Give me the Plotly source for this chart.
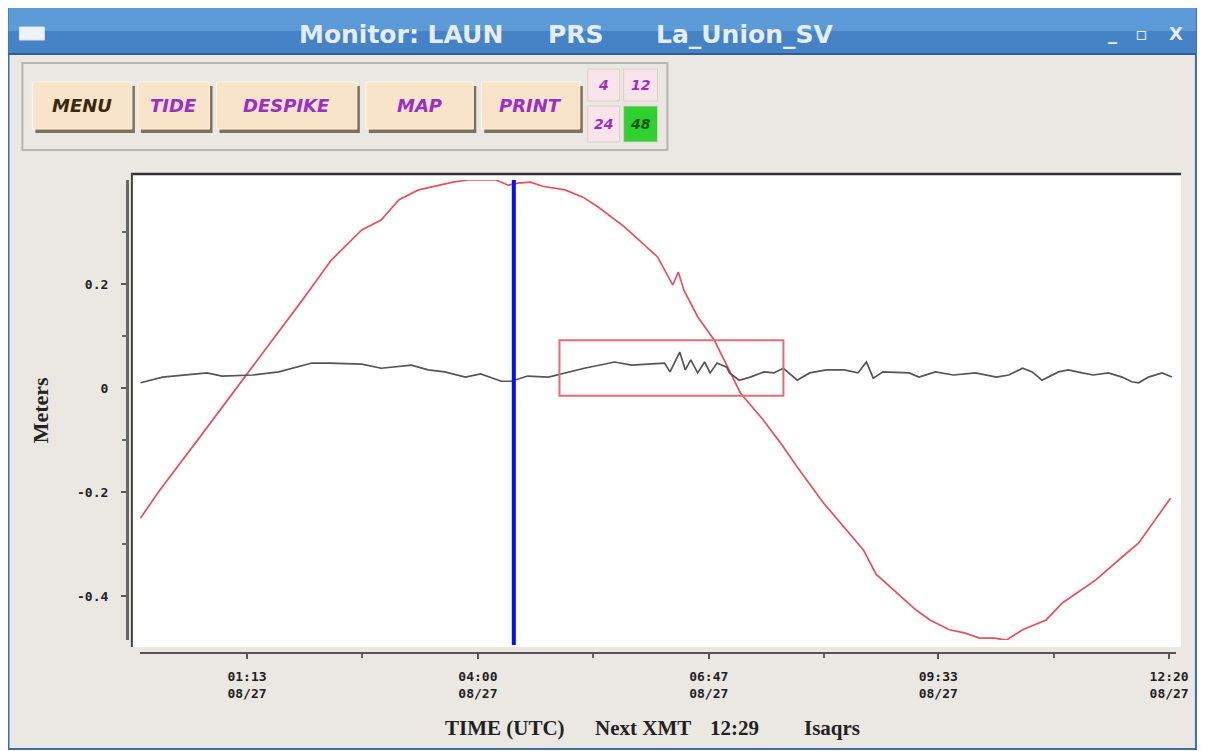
import plotly.graph_objects as go

# ---------------- data (minutes after 00:00 UTC on 08/27, metres) ----------------
tide_t = [-4, 10, 39, 71, 89, 113, 134, 156, 170, 183, 197, 211, 222, 233, 242, 253, 262,
          269, 278, 287, 303, 316, 327, 346, 370, 381, 385, 389, 399, 411, 430, 446, 459,
          471, 490, 505, 519, 528, 543, 557, 567, 581, 592, 603, 614, 622, 634, 651, 663,
          687, 706, 718, 741]
tide_v = [-0.25, -0.196, -0.094, 0.019, 0.083, 0.169, 0.246, 0.304, 0.323, 0.362, 0.381,
          0.39, 0.396, 0.40, 0.40, 0.40, 0.39, 0.394, 0.396, 0.388, 0.381, 0.367, 0.348,
          0.31, 0.252, 0.198, 0.223, 0.188, 0.137, 0.092, -0.01, -0.06, -0.106, -0.152,
          -0.221, -0.267, -0.312, -0.358, -0.394, -0.427, -0.446, -0.465, -0.471, -0.481,
          -0.481, -0.485, -0.465, -0.446, -0.413, -0.369, -0.325, -0.298, -0.212]

resid_t = [-4, 12, 44, 55, 77, 96, 120, 132, 156, 170, 192, 204, 216, 231, 242, 257, 264,
           276, 291, 303, 317, 339, 351, 375, 379, 386, 390, 394, 399, 404, 408, 413, 420,
           422, 429, 437, 447, 454, 461, 471, 480, 492, 505, 515, 521, 526, 533, 552, 559,
           571, 584, 600, 615, 624, 634, 641, 648, 660, 667, 677, 685, 696, 706, 713, 718,
           725, 735, 742]
resid_v = [0.010, 0.021, 0.029, 0.023, 0.025, 0.031, 0.048, 0.048, 0.046, 0.038, 0.044,
           0.035, 0.031, 0.021, 0.027, 0.013, 0.013, 0.023, 0.021, 0.029, 0.038, 0.050,
           0.044, 0.048, 0.031, 0.069, 0.035, 0.054, 0.029, 0.050, 0.029, 0.048, 0.040,
           0.029, 0.015, 0.021, 0.031, 0.029, 0.038, 0.015, 0.029, 0.035, 0.035, 0.029,
           0.050, 0.019, 0.031, 0.029, 0.021, 0.031, 0.025, 0.029, 0.021, 0.025, 0.038,
           0.031, 0.015, 0.031, 0.035, 0.029, 0.025, 0.029, 0.021, 0.012, 0.010, 0.021,
           0.029, 0.021]

x_tick_vals = [73, 240, 407, 573, 740]
x_tick_text = ["01:13<br>08/27", "04:00<br>08/27", "06:47<br>08/27", "09:33<br>08/27", "12:20<br>08/27"]
x_minor_vals = [156.5, 323.5, 490, 656.5]
y_tick_vals = [-0.4, -0.2, 0, 0.2]
y_tick_text = ["-0.4", "-0.2", "0", "0.2"]

cursor_t = 266
box_t = [299, 461]
box_v = [-0.015, 0.092]

title_parts = ["Monitor: LAUN", "PRS", "La_Union_SV"]
x_title_parts = ["TIME (UTC)", "Next XMT", "12:29", "Isaqrs"]
y_title = "Meters"
buttons = ["MENU", "TIDE", "DESPIKE", "MAP", "PRINT"]
span_buttons = ["4", "12", "24", "48"]

# ---------------- geometry helpers (page pixel coords; page body has an 8px margin) ----------------
OFF = 8
W, H = 1209 - OFF, 751 - OFF
ML, MR, MT, MB = 110 - OFF, 20, 165 - OFF, 91
PW, PH = W - ML - MR, H - MT - MB


def px(x):
    return (x - OFF - ML) / PW


def py(y):
    return (H - MB - (y - OFF)) / PH


fig = go.Figure()
fig.add_trace(go.Scatter(x=tide_t, y=tide_v, mode="lines",
                         line=dict(color="#e8505a", width=1.7), hoverinfo="skip"))
fig.add_trace(go.Scatter(x=resid_t, y=resid_v, mode="lines",
                         line=dict(color="#555555", width=1.7), hoverinfo="skip"))

shapes = []
annotations = []


def rect(x0, y0, x1, y1, fill, line=None, lw=0, layer="below"):
    shapes.append(dict(type="rect", xref="paper", yref="paper",
                       x0=px(x0), x1=px(x1), y0=py(y1), y1=py(y0),
                       fillcolor=fill, line=dict(color=line or fill, width=lw), layer=layer))


def hline(x0, x1, y, color, w, layer="below"):
    shapes.append(dict(type="line", xref="paper", yref="paper", x0=px(x0), x1=px(x1),
                       y0=py(y), y1=py(y), line=dict(color=color, width=w), layer=layer))


def vline(x, y0, y1, color, w, layer="below"):
    shapes.append(dict(type="line", xref="paper", yref="paper", x0=px(x), x1=px(x),
                       y0=py(y0), y1=py(y1), line=dict(color=color, width=w), layer=layer))


def text(x, y, s, size, color, family="DejaVu Sans", weight="bold", style="normal", angle=0):
    annotations.append(dict(xref="paper", yref="paper", x=px(x), y=py(y), text=s,
                            showarrow=False, xanchor="center", yanchor="middle", textangle=angle,
                            font=dict(size=size, color=color, family=family, weight=weight, style=style)))


# window
rect(8, 8, 1201, 749, "#ebe8e4", "#3b6ea6", 2)
rect(8, 8, 1201, 31, "#5d9ad8")
rect(8, 31, 1201, 54, "#4683c6")
hline(8, 1201, 54, "#2f5f96", 2)
rect(19, 27, 44, 40, "#eef3fa", "#dfe8f4", 1)
for s, cx in zip(title_parts, [402, 578, 747]):
    text(cx, 34, s, 25, "#e4edf8", family="DejaVu Sans")
text(1117, 33, "_", 18, "#e4edf8")
text(1146, 33, "▫", 18, "#e4edf8")
text(1181, 33, "X", 18, "#e4edf8")

# toolbar
rect(22, 63, 670, 150, "#ebe8e4", "#b8b4ae", 2)
btn_pos = [(32, 132), (138, 210), (217, 358), (367, 475), (483, 582)]
for lab, (a, b) in zip(buttons, btn_pos):
    rect(a + 3, 86, b + 3, 133, "#7d705c")
    rect(a, 82, b, 129, "#f8e4c8", "#fff4e6", 1)
    col = "#3a2810" if lab == "MENU" else "#9a2fc8"
    text((a + b) / 2, 106, lab, 18, col, family="DejaVu Sans", style="italic")
span_pos = [(590, 69, 622, 101), (626, 69, 660, 101), (590, 106, 622, 142), (626, 106, 660, 142)]
for lab, (a, b, c, d) in zip(span_buttons, span_pos):
    fill = "#2fd02f" if lab == "48" else "#f8e4ea"
    rect(a, b, c, d, fill, "#d8d0c8", 1)
    col = "#0c5a0c" if lab == "48" else "#a02cc0"
    text((a + c) / 2, (b + d) / 2, lab, 14, col, family="DejaVu Sans", style="italic")

# plot frame
rect(132, 173, 1186, 647, "#ffffff")
hline(131, 1186, 174, "#333333", 2.5)
vline(132, 173, 647, "#444444", 2)

# cursor and highlight box
shapes.append(dict(type="line", xref="x", yref="paper", x0=cursor_t, x1=cursor_t,
                   y0=py(645), y1=py(180), line=dict(color="#0010ff", width=4), layer="above"))
shapes.append(dict(type="rect", xref="x", yref="y", x0=box_t[0], x1=box_t[1],
                   y0=box_v[0], y1=box_v[1], line=dict(color="#e86a72", width=2),
                   fillcolor="rgba(0,0,0,0)", layer="above"))

# axis titles
text(40, 410, y_title, 22, "#222222", family="Liberation Serif", angle=-90)
for s, cx in zip(x_title_parts, [507, 645, 737, 835]):
    text(cx, 728, s, 21, "#222222", family="Liberation Serif")

fig.update_layout(
    width=W, height=H,
    margin=dict(l=ML, r=MR, t=MT, b=MB, pad=0),
    paper_bgcolor="#ffffff", plot_bgcolor="#ffffff",
    showlegend=False,
    shapes=shapes, annotations=annotations,
    xaxis=dict(domain=[px(140), px(1181)], range=[-4.5, 745], anchor="free", position=py(653),
               showgrid=False, zeroline=False, showline=True, linecolor="#555555", linewidth=2,
               tickmode="array", tickvals=x_tick_vals, ticktext=x_tick_text,
               ticks="outside", ticklen=5, tickwidth=1.5, tickcolor="#555555",
               ticklabelstandoff=6,
               tickfont=dict(family="DejaVu Sans Mono", size=13, color="#222222", weight="bold"),
               minor=dict(tickvals=x_minor_vals, ticks="outside", ticklen=4, tickcolor="#666666")),
    yaxis=dict(domain=[py(640), py(180)], range=[-0.4846, 0.4], anchor="free", position=px(127),
               showgrid=False, zeroline=False, showline=True, linecolor="#666666", linewidth=3,
               tickmode="array", tickvals=y_tick_vals, ticktext=y_tick_text,
               ticks="outside", ticklen=5, tickwidth=1.5, tickcolor="#555555",
               ticklabelstandoff=10,
               tickfont=dict(family="DejaVu Sans Mono", size=13, color="#222222", weight="bold"),
               minor=dict(tickvals=[-0.3, -0.1, 0.1, 0.3], ticks="outside", ticklen=4,
                          tickcolor="#666666")),
)

fig.write_html("out.html")
